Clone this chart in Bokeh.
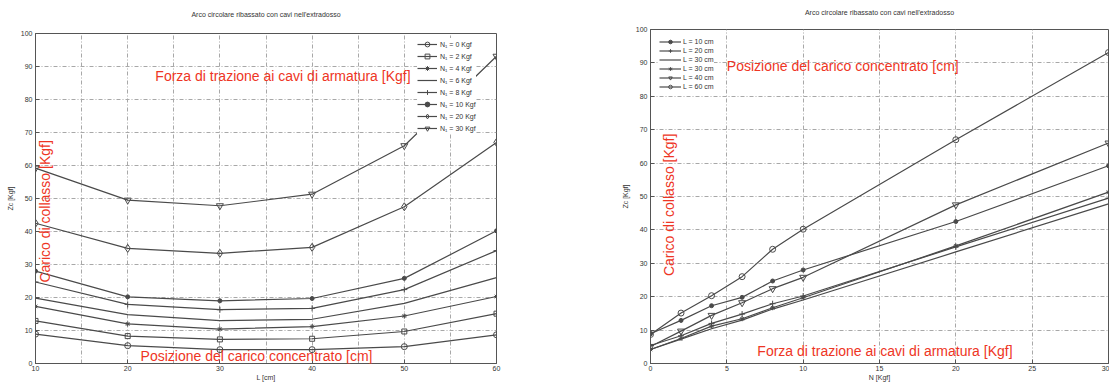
import math
from bokeh.plotting import figure
from bokeh.models import Legend, LegendItem, Label, FixedTicker, Range1d
from bokeh.layouts import row, column
from bokeh.embed import file_html
from bokeh.resources import INLINE

# ---------------- data ----------------
TITLE = "Arco circolare ribassato con cavi nell'extradosso"
L_cm = [10, 20, 30, 40, 50, 60]           # position of concentrated load [cm]
N_kgf = [0, 2, 4, 6, 8, 10, 20, 30]       # cable tension [Kgf]

# collapse load Zc [Kgf] for each cable tension N (values over L_cm)
z_N0 = [8.9, 5.4, 4.2, 4.2, 5.1, 8.7]
z_N2 = [12.9, 8.3, 7.3, 7.5, 9.7, 15.1]
z_N4 = [17.3, 12.0, 10.4, 11.2, 14.4, 20.3]
z_N6 = [19.8, 14.8, 13.0, 13.4, 18.2, 26.0]
z_N8 = [24.7, 17.9, 16.3, 16.7, 22.4, 34.2]
z_N10 = [28.0, 20.2, 19.0, 19.7, 25.8, 40.2]
z_N20 = [42.5, 34.9, 33.4, 35.2, 47.5, 67.0]
z_N30 = [59.2, 49.5, 47.8, 51.3, 66.0, 93.1]

left_labels = ["N\u2081 = 0 Kgf", "N\u2081 = 2 Kgf", "N\u2081 = 4 Kgf", "N\u2081 = 6 Kgf",
               "N\u2081 = 8 Kgf", "N\u2081 = 10 Kgf", "N\u2081 = 20 Kgf", "N\u2081 = 30 Kgf"]
right_labels = ["L = 10 cm", "L = 20 cm", "L = 30 cm", "L = 30 cm", "L = 40 cm", "L = 60 cm"]

left_series = [z_N0, z_N2, z_N4, z_N6, z_N8, z_N10, z_N20, z_N30]
# right panel: same table read per load position (columns)
right_series = [[s[j] for s in left_series] for j in range(len(L_cm))]

# ---------------- styles ----------------
LINE = "#4a4a4a"
RED = "#ee3524"
GRID = "#a8a8a8"
TXT = "#333333"
FONT = "Liberation Sans"

left_markers = [("circle", 6, False), ("square", 5, False), ("asterisk", 5, False), (None, 0, False),
                ("cross", 6, False), ("circle", 4, True), ("diamond", 8, False), ("inverted_triangle", 7, False)]
right_markers = [("circle", 4, True), ("cross", 6, False), (None, 0, False), ("asterisk", 5, False),
                 ("inverted_triangle", 7, False), ("circle", 6, False)]


def style(p, xticks, xgrid_ticks, xlabel, title_text, title_standoff):
    p.outline_line_color = "#555555"
    p.outline_line_width = 1
    p.xaxis.ticker = FixedTicker(ticks=xticks)
    p.yaxis.ticker = FixedTicker(ticks=list(range(0, 101, 10)))
    p.xgrid.ticker = FixedTicker(ticks=xgrid_ticks)
    for g in (p.xgrid, p.ygrid):
        g.grid_line_color = GRID
        g.grid_line_dash = "4 2 1 2"
        g.grid_line_width = 1
    for ax in (p.xaxis, p.yaxis):
        ax.major_tick_in = 4
        ax.major_tick_out = 0
        ax.minor_tick_line_color = None
        ax.axis_line_color = "#555555"
        ax.major_tick_line_color = "#555555"
        ax.major_label_text_font_size = "7px"
        ax.major_label_text_font = FONT
        ax.major_label_text_color = TXT
        ax.axis_label_text_font_size = "7px"
        ax.axis_label_text_font_style = "normal"
        ax.axis_label_text_font = FONT
        ax.axis_label_text_color = TXT
    p.yaxis.major_label_standoff = 3
    p.yaxis.axis_label = "Zc [Kgf]"
    p.yaxis.axis_label_standoff = 4
    p.xaxis.major_label_standoff = 2
    p.xaxis.axis_label = xlabel
    p.xaxis.axis_label_standoff = 0
    p.title.text = title_text
    p.title.align = "center"
    p.title.text_font_size = "7px"
    p.title.text_font_style = "normal"
    p.title.text_font = FONT
    p.title.text_color = TXT
    p.title.standoff = title_standoff
    p.background_fill_color = "white"
    p.border_fill_color = "white"


def add_series(p, xs, series, markers, labels):
    items = []
    for ys, (mk, sz, filled), lab in zip(series, markers, labels):
        rs = [p.line(xs, ys, line_color=LINE, line_width=1.2)]
        if mk is not None:
            rs.append(p.scatter(xs, ys, marker=mk, size=sz, line_color=LINE, line_width=1,
                                fill_color=LINE if filled else None))
        items.append(LegendItem(label=lab, renderers=rs))
    return items


def red_label(p, x, y, text, angle=0.0, align="left"):
    p.add_layout(Label(x=x, y=y, text=text, text_color=RED, text_font_size="14px",
                       text_font=FONT, text_baseline="middle", text_align=align, angle=angle))


# ---------------- left panel ----------------
p1 = figure(width=600, height=383, x_range=Range1d(10, 60), y_range=Range1d(0, 100),
            output_backend="svg", toolbar_location=None,
            min_border_left=35, min_border_right=104, min_border_top=33, min_border_bottom=15)
# trailing blank lines lift the title text away from the frame
style(p1, L_cm, list(range(10, 61, 5)), "L [cm]", TITLE + "\n \n ", 3)
items1 = add_series(p1, L_cm, left_series, left_markers, left_labels)
leg1 = Legend(items=items1, location=(382, 229), background_fill_color="white", background_fill_alpha=1,
              border_line_color=None, padding=5, margin=0, spacing=0, glyph_height=12, label_height=12,
              glyph_width=20, label_standoff=3, label_text_font_size="7px", label_text_font=FONT,
              label_text_color=TXT)
p1.add_layout(leg1)
red_label(p1, 23.0, 87.0, "Forza di trazione ai cavi di armatura [Kgf]")
red_label(p1, 21.4, 2.4, "Posizione del carico concentrato [cm]")
red_label(p1, 11.0, 46.1, "Carico di collasso [Kgf]", angle=math.pi / 2, align="center")

# ---------------- right panel ----------------
p2 = figure(width=509, height=383, x_range=Range1d(0, 30), y_range=Range1d(0, 100),
            output_backend="svg", toolbar_location=None,
            min_border_left=50, min_border_right=1, min_border_top=29, min_border_bottom=19)
style(p2, list(range(0, 31, 5)), list(range(0, 31, 5)), "N [Kgf]", TITLE + "\n \n ", 0)
items2 = add_series(p2, N_kgf, right_series, right_markers, right_labels)
leg2 = Legend(items=items2, location=(9, 272), background_fill_color="white", background_fill_alpha=1,
              border_line_color=None, padding=4, margin=0, spacing=0, glyph_height=9, label_height=9,
              glyph_width=22, label_standoff=2, label_text_font_size="7px", label_text_font=FONT,
              label_text_color=TXT)
p2.add_layout(leg2)
red_label(p2, 5.0, 89.0, "Posizione del carico concentrato [cm]")
red_label(p2, 7.0, 3.6, "Forza di trazione ai cavi di armatura [Kgf]")
red_label(p2, 1.18, 47.5, "Carico di collasso [Kgf]", angle=math.pi / 2, align="center")

# separate wrappers keep each panel's own frame position
layout = row(column(p1), column(p2), spacing=0)
open("out.html", "w").write(file_html(layout, INLINE))
